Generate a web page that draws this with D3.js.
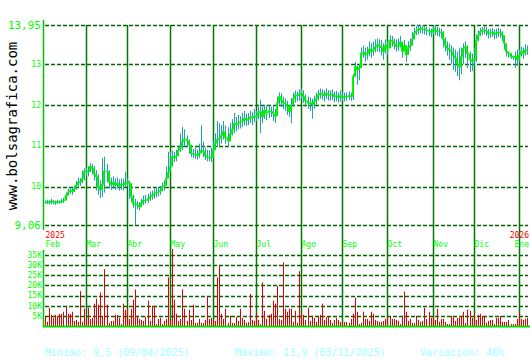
<!DOCTYPE html>
<html>
<head>
<meta charset="utf-8">
<script src="https://cdn.jsdelivr.net/npm/d3@7"></script>
<style>
  body { margin: 0; background: #fff; }
  svg { display: block; }
  text { font-family: "DejaVu Sans Mono", monospace; }
</style>
</head>
<body>
<div id="chart"></div>
<script>
// month labels and the trading-day index where each month starts
var months = ["Feb", "Mar", "Abr", "May", "Jun", "Jul", "Ago", "Sep", "Oct", "Nov", "Dic", "Ene"];
var monthStart = [0, 20, 40, 61, 82, 103, 125, 145, 167, 189, 209, 231];

// price axis ticks
var priceTicks = [13.95, 13, 12, 11, 10, 9.06];
var priceLabels = ["13,95", "13", "12", "11", "10", "9,06"];

// volume axis ticks (thousands)
var volTicks = [5, 10, 15, 20, 25, 30, 35];

// daily closes, Feb 2025 -> Jan 2026
var closes = [
  9.62, 9.63, 9.61, 9.65, 9.62, 9.60, 9.63, 9.62, 9.64, 9.66, 9.78, 9.87, 9.90, 9.88, 9.95, 10.04, 10.10, 10.12, 10.20, 10.36,
  10.38, 10.36, 10.49, 10.44, 10.30, 10.24, 9.98, 9.92, 10.05, 10.38, 10.36, 10.12, 10.05, 10.10, 10.04, 10.08, 10.02, 10.06, 10.04, 10.10,
  10.12, 10.08, 9.75, 9.57, 9.58, 9.55, 9.50, 9.60, 9.67, 9.66, 9.70, 9.75, 9.78, 9.82, 9.85, 9.87, 9.90, 10.00, 10.02, 10.20, 10.35,
  10.49, 10.73, 10.70, 10.75, 10.89, 10.95, 11.10, 11.16, 11.12, 11.02, 10.81, 10.80, 10.78, 10.76, 10.82, 10.88, 10.85, 10.75, 10.72, 10.70, 10.71,
  10.90, 11.06, 11.15, 11.18, 11.25, 11.34, 11.20, 11.12, 11.28, 11.40, 11.55, 11.52, 11.55, 11.58, 11.60, 11.67, 11.62, 11.65, 11.70, 11.68, 11.72,
  11.72, 11.80, 11.83, 11.70, 11.87, 11.80, 11.85, 11.83, 11.78, 11.72, 12.04, 12.20, 12.12, 12.05, 12.02, 11.95, 11.83, 12.00, 12.15, 12.24, 12.22, 12.26,
  12.28, 12.20, 12.10, 12.04, 12.05, 12.00, 12.08, 12.15, 12.24, 12.28, 12.26, 12.22, 12.28, 12.25, 12.24, 12.26, 12.20, 12.22, 12.18, 12.22,
  12.20, 12.18, 12.20, 12.22, 12.20, 12.69, 12.93, 12.85, 12.90, 13.26, 13.28, 13.22, 13.25, 13.36, 13.30, 13.34, 13.42, 13.47, 13.44, 13.40, 13.30, 13.45,
  13.38, 13.58, 13.55, 13.48, 13.42, 13.44, 13.54, 13.31, 13.45, 13.22, 13.40, 13.45, 13.60, 13.75, 13.80, 13.83, 13.87, 13.85, 13.84, 13.82, 13.80, 13.77,
  13.85, 13.82, 13.80, 13.78, 13.77, 13.60, 13.46, 13.38, 13.34, 13.30, 13.20, 13.14, 13.00, 12.93, 13.18, 13.38, 13.42, 13.25, 13.10, 13.06,
  13.10, 13.58, 13.70, 13.79, 13.82, 13.83, 13.80, 13.74, 13.76, 13.78, 13.72, 13.75, 13.78, 13.76, 13.70, 13.50, 13.30, 13.26, 13.18, 13.16, 13.18, 13.10,
  13.22, 13.30, 13.26, 13.34, 13.32
];

var highs = [
  9.66, 9.68, 9.66, 9.70, 9.67, 9.66, 9.68, 9.66, 9.70, 9.72, 9.85, 9.95, 9.98, 9.96, 10.02, 10.14, 10.22, 10.20, 10.40, 10.45,
  10.45, 10.50, 10.58, 10.55, 10.50, 10.40, 10.30, 10.15, 10.70, 10.73, 10.55, 10.40, 10.22, 10.25, 10.20, 10.22, 10.18, 10.20, 10.18, 10.36,
  10.20, 10.15, 10.05, 9.80, 9.70, 9.65, 9.62, 9.70, 9.78, 9.80, 9.82, 9.88, 9.90, 9.95, 9.98, 10.00, 10.02, 10.10, 10.15, 10.49, 10.85,
  10.85, 10.88, 10.85, 10.90, 11.00, 11.30, 11.46, 11.40, 11.25, 11.15, 11.00, 10.92, 10.95, 10.90, 11.05, 11.50, 11.10, 10.95, 10.90, 10.88, 10.95,
  11.10, 11.30, 11.60, 11.55, 11.50, 11.60, 11.50, 11.45, 11.55, 11.65, 11.80, 11.70, 11.75, 11.72, 11.80, 11.85, 11.78, 11.80, 11.85, 11.82, 11.90,
  11.85, 11.95, 12.12, 11.95, 12.00, 11.98, 12.00, 11.95, 11.98, 11.90, 12.20, 12.30, 12.28, 12.20, 12.15, 12.10, 12.00, 12.16, 12.30, 12.35, 12.32, 12.38,
  12.40, 12.35, 12.25, 12.20, 12.18, 12.15, 12.22, 12.30, 12.36, 12.40, 12.38, 12.35, 12.40, 12.36, 12.35, 12.38, 12.32, 12.34, 12.30, 12.35,
  12.32, 12.30, 12.30, 12.33, 12.30, 12.75, 13.05, 12.95, 13.00, 13.40, 13.45, 13.40, 13.42, 13.55, 13.50, 13.55, 13.60, 13.62, 13.60, 13.58, 13.50, 13.60,
  13.55, 13.70, 13.68, 13.62, 13.60, 13.62, 13.68, 13.50, 13.58, 13.45, 13.55, 13.62, 13.78, 13.88, 13.92, 13.95, 13.95, 13.93, 13.92, 13.90, 13.88, 13.86,
  13.92, 13.95, 13.90, 13.88, 13.86, 13.80, 13.65, 13.55, 13.50, 13.45, 13.40, 13.35, 13.30, 13.38, 13.40, 13.50, 13.55, 13.45, 13.30, 13.25,
  13.40, 13.72, 13.82, 13.88, 13.90, 13.92, 13.90, 13.85, 13.86, 13.88, 13.84, 13.86, 13.88, 13.85, 13.80, 13.65, 13.40, 13.30, 13.22, 13.20, 13.30, 13.35,
  13.35, 13.42, 13.40, 13.48, 13.45
];

var lows = [
  9.58, 9.57, 9.56, 9.58, 9.57, 9.55, 9.58, 9.58, 9.59, 9.60, 9.68, 9.80, 9.82, 9.80, 9.86, 9.92, 10.00, 10.02, 10.08, 10.15,
  10.25, 10.25, 10.40, 10.30, 10.15, 9.90, 9.80, 9.72, 9.75, 9.85, 10.10, 9.95, 9.92, 9.95, 9.92, 9.95, 9.90, 9.92, 9.90, 9.98,
  10.00, 9.70, 9.62, 9.48, 9.06, 9.45, 9.42, 9.50, 9.55, 9.58, 9.60, 9.65, 9.68, 9.70, 9.74, 9.76, 9.80, 9.88, 9.90, 10.04, 10.30,
  10.40, 10.55, 10.60, 10.62, 10.75, 10.85, 10.89, 10.98, 10.95, 10.80, 10.72, 10.70, 10.68, 10.66, 10.70, 10.81, 10.72, 10.65, 10.62, 10.62, 10.60,
  10.70, 10.90, 10.97, 11.00, 11.05, 11.15, 11.05, 10.98, 11.10, 11.25, 11.30, 11.35, 11.40, 11.42, 11.45, 11.50, 11.48, 11.50, 11.55, 11.50, 11.58,
  11.60, 11.65, 11.31, 11.55, 11.65, 11.62, 11.68, 11.70, 11.60, 11.55, 11.80, 12.00, 11.95, 11.90, 11.85, 11.75, 11.70, 11.55, 11.95, 12.05, 12.08, 12.10,
  12.15, 12.05, 11.95, 11.90, 11.85, 11.66, 11.90, 12.00, 12.10, 12.15, 12.12, 12.08, 12.14, 12.10, 12.10, 12.12, 12.06, 12.08, 12.05, 12.08,
  12.10, 12.08, 12.10, 12.12, 12.10, 12.12, 12.70, 12.49, 12.60, 12.90, 13.15, 13.05, 13.10, 13.18, 13.15, 13.20, 13.28, 13.30, 13.28, 13.20, 13.10, 13.25,
  13.22, 13.40, 13.42, 13.35, 13.30, 13.32, 13.40, 13.15, 13.30, 13.05, 13.25, 13.32, 13.45, 13.62, 13.70, 13.72, 13.75, 13.74, 13.72, 13.70, 13.68, 13.65,
  13.72, 13.70, 13.68, 13.66, 13.62, 13.40, 13.30, 13.20, 13.10, 13.00, 12.85, 12.80, 12.70, 12.60, 12.75, 13.00, 13.15, 12.90, 12.80, 12.82,
  12.95, 13.05, 13.55, 13.68, 13.70, 13.72, 13.68, 13.62, 13.64, 13.66, 13.60, 13.62, 13.66, 13.64, 13.55, 13.35, 13.18, 13.15, 13.12, 13.10, 12.90, 12.95,
  13.05, 13.18, 13.12, 13.20, 13.22
];

// daily volume in thousands
var volumes = [
  4.6, 2, 9, 5.5, 4, 5.5, 4.5, 6, 6, 7, 10, 6, 6, 7, 2.5, 3, 2, 17.2, 2, 8.5,
  3.5, 9, 3.5, 4, 11, 13.5, 10.5, 16.5, 4.5, 28, 10.5, 1.5, 2.5, 2.5, 5.5, 5.5, 4, 1, 11, 8,
  9, 3.5, 8.5, 13, 18, 5, 3.5, 3, 2.5, 4.5, 12.5, 2.5, 10, 10, 1, 3.5, 4, 1, 2.5, 3.5,
  24, 3, 38,
  13, 6, 2.5, 3.5, 18, 8.5, 2.5, 8, 3, 10.5, 1.5, 1.5, 3.5, 1.5, 1.5, 3, 14.8, 3.5, 4, 2.5,
  2.5, 24, 29.7, 6, 3.5, 8.5, 1.5, 5, 1.5, 1.5, 4.5, 2.5, 8.5, 4, 3, 1.5, 2, 15.8, 3, 2.5,
  6.5, 3, 1, 21.5, 7.5, 3.5, 5.5, 6, 12.5, 11, 19.7, 3.5, 3, 31.4, 8.5, 7, 8.5, 8.5, 2, 7.5,
  1.5, 27, 6.5, 5.5, 3, 9, 2.5, 5, 4, 2, 5, 5.5, 11, 3, 4.5, 4.5, 3, 1.5, 3, 4, 3, 2,
  1.5, 2, 2, 1.5, 3.5, 6, 14, 7, 1, 1.5, 7, 3.5, 3.5, 2.5, 7, 6, 3, 2.5, 2, 2,
  2.5, 3.5, 4, 5, 3.5, 3.5, 3, 2.5, 1, 5, 17, 7, 2.5, 3.5, 1.5, 1.5, 5, 3, 2, 2.5,
  9, 3.5, 7, 4, 4, 3, 8.5, 2, 3.5, 3.5, 2, 1, 1, 5, 5, 2.5, 4, 4, 5, 7,
  1.5, 8, 7.5, 4, 5.5, 3, 5.5, 6, 5, 4.5, 1.5, 2.5, 3, 3, 1, 4, 4, 5, 2, 2,
  2, 3, 1, 1, 1, 3.5, 7, 3.5, 3, 3.5, 4
];

var width = 530;
var height = 360;

var svg = d3.select("#chart")
  .append("svg")
  .attr("width", width)
  .attr("height", height);

// scales: trading day index -> x, price -> y, volume -> y
var xScale = d3.scaleLinear().domain([0, 236]).range([45, 529]);
var yScale = d3.scaleLinear().domain([9.06, 13.95]).range([225, 25]);
var vScale = d3.scaleLinear().domain([0, 35]).range([326, 255]);

var px = i => Math.round(xScale(i)) + 0.5;

var gridColor = "#006400";
var labelGreen = "#00ff00";

// horizontal dashed price grid
svg.append("g")
  .selectAll("line")
  .data(priceTicks)
  .enter()
  .append("line")
  .attr("x1", 45)
  .attr("x2", 528)
  .attr("y1", d => Math.round(yScale(d)) + 0.5)
  .attr("y2", d => Math.round(yScale(d)) + 0.5)
  .attr("stroke", gridColor)
  .attr("stroke-width", 1.5)
  .attr("stroke-dasharray", "4,2");

// price labels
svg.append("g")
  .selectAll("text")
  .data(priceTicks)
  .enter()
  .append("text")
  .attr("x", 41)
  .attr("y", d => yScale(d))
  .attr("dy", "0.35em")
  .attr("text-anchor", "end")
  .attr("fill", labelGreen)
  .attr("font-size", (d, i) => (i === 0 || i === priceTicks.length - 1) ? 11 : 8)
  .text((d, i) => priceLabels[i]);

// horizontal dashed volume grid
svg.append("g")
  .selectAll("line")
  .data(volTicks)
  .enter()
  .append("line")
  .attr("x1", 45)
  .attr("x2", 528)
  .attr("y1", d => Math.round(vScale(d)) + 0.5)
  .attr("y2", d => Math.round(vScale(d)) + 0.5)
  .attr("stroke", gridColor)
  .attr("stroke-width", 1.5)
  .attr("stroke-dasharray", "4,2");

svg.append("g")
  .selectAll("text")
  .data(volTicks)
  .enter()
  .append("text")
  .attr("x", 42)
  .attr("y", d => vScale(d))
  .attr("dy", "0.35em")
  .attr("text-anchor", "end")
  .attr("fill", labelGreen)
  .attr("font-size", 8)
  .text(d => d + "K");

// vertical month lines through both panels
svg.append("g")
  .selectAll("line")
  .data(monthStart.slice(1))
  .enter()
  .append("line")
  .attr("x1", d => px(d))
  .attr("x2", d => px(d))
  .attr("y1", 25)
  .attr("y2", 326)
  .attr("stroke", "#007800")
  .attr("stroke-width", 1.5);

// month labels; the last one is pulled in so it stays inside the frame
var lastM = months.length - 1;
svg.append("g")
  .selectAll("text")
  .data(months)
  .enter()
  .append("text")
  .attr("x", (d, i) => i === lastM ? 529 : px(monthStart[i]))
  .attr("y", 247)
  .attr("text-anchor", (d, i) => i === lastM ? "end" : "start")
  .attr("fill", labelGreen)
  .attr("font-size", 8)
  .text(d => d);

// year labels in red
svg.append("g")
  .selectAll("text")
  .data([0, 231])
  .enter()
  .append("text")
  .attr("x", (d, i) => i === 0 ? px(d) : 529)
  .attr("y", 238)
  .attr("text-anchor", (d, i) => i === 0 ? "start" : "end")
  .attr("fill", "#ff0000")
  .attr("font-size", 8)
  .text((d, i) => i === 0 ? "2025" : "2026");

// left axis lines
svg.append("line")
  .attr("x1", 43.5).attr("x2", 43.5).attr("y1", 20).attr("y2", 230)
  .attr("stroke", "#00c000").attr("stroke-width", 1.5);
svg.append("line")
  .attr("x1", 43.5).attr("x2", 43.5).attr("y1", 250).attr("y2", 327)
  .attr("stroke", "#00c000").attr("stroke-width", 1.5);

// volume bars
svg.append("g")
  .selectAll("line")
  .data(volumes)
  .enter()
  .append("line")
  .attr("x1", (d, i) => px(i))
  .attr("x2", (d, i) => px(i))
  .attr("y1", 326)
  .attr("y2", d => vScale(d))
  .attr("stroke", "#e00000")
  .attr("stroke-width", 1);

// volume baseline
svg.append("line")
  .attr("x1", 43).attr("x2", 530).attr("y1", 326.5).attr("y2", 326.5)
  .attr("stroke", "#00e000").attr("stroke-width", 2);

// high-low range bars
svg.append("g")
  .selectAll("line")
  .data(closes)
  .enter()
  .append("line")
  .attr("x1", (d, i) => px(i))
  .attr("x2", (d, i) => px(i))
  .attr("y1", (d, i) => yScale(highs[i]))
  .attr("y2", (d, i) => yScale(lows[i]))
  .attr("stroke", "#1fa3ab")
  .attr("stroke-width", 1);

// bodies from previous close to close
svg.append("g")
  .selectAll("rect")
  .data(closes.slice(1))
  .enter()
  .append("rect")
  .attr("x", (d, i) => px(i + 1) - 1.5)
  .attr("width", 2)
  .attr("y", (d, i) => yScale(Math.max(d, closes[i])))
  .attr("height", (d, i) => Math.max(1, Math.abs(yScale(d) - yScale(closes[i]))))
  .attr("fill", "#00e000");

// close line, stepped
var line = d3.line()
  .x((d, i) => px(i))
  .y(d => yScale(d))
  .curve(d3.curveStep);

svg.append("path")
  .datum(closes)
  .attr("fill", "none")
  .attr("stroke", "#00ff00")
  .attr("stroke-width", 1)
  .attr("d", line);

// vertical site name
svg.append("text")
  .attr("transform", "translate(17,126) rotate(-90)")
  .attr("text-anchor", "middle")
  .attr("fill", "#000")
  .attr("font-size", 14)
  .text("www.bolsagrafica.com");

// footer stats
var footer = [
  { x: 45, t: "Minimo: 9,5 (09/04/2025)" },
  { x: 235, t: "Maximo: 13,9 (03/11/2025)" },
  { x: 420, t: "Variación: 46%" }
];
svg.append("g")
  .selectAll("text")
  .data(footer)
  .enter()
  .append("text")
  .attr("x", d => d.x)
  .attr("y", 356)
  .attr("fill", "#a0ffff")
  .attr("font-size", 10)
  .text(d => d.t);
</script>
</body>
</html>
